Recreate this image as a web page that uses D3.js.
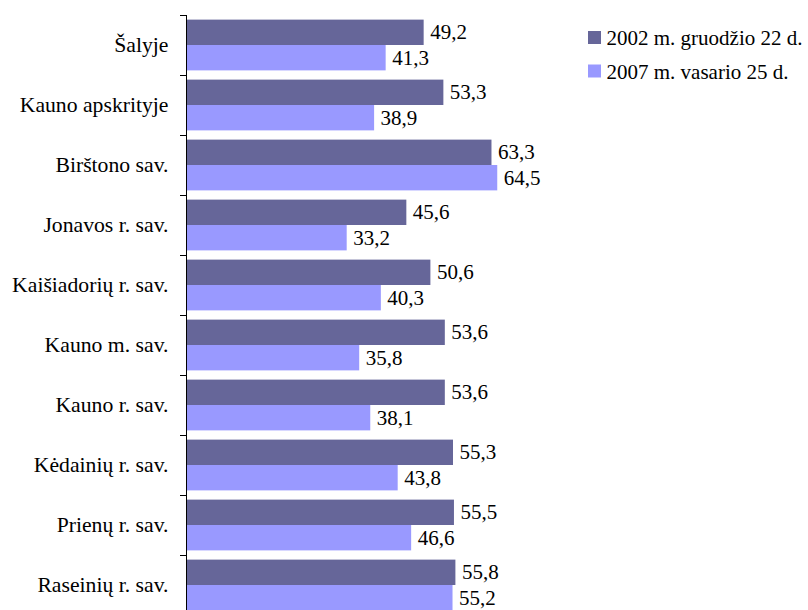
<!DOCTYPE html>
<html><head><meta charset="utf-8">
<script src="https://cdn.jsdelivr.net/npm/d3@7"></script>
<style>body{margin:0;background:#fff}svg{display:block}</style>
</head><body>
<script>
const categories = ["Šalyje","Kauno apskrityje","Birštono sav.","Jonavos r. sav.","Kaišiadorių r. sav.","Kauno m. sav.","Kauno r. sav.","Kėdainių r. sav.","Prienų r. sav.","Raseinių r. sav."];
const series2002 = [49.2,53.3,63.3,45.6,50.6,53.6,53.6,55.3,55.5,55.8];
const series2007 = [41.3,38.9,64.5,33.2,40.3,35.8,38.1,43.8,46.6,55.2];
const seriesNames = ["2002 m. gruodžio 22 d.","2007 m. vasario 25 d."];
const colors = ["#666699","#9999ff"];

const W=808,H=610;
const FF = '"Liberation Serif"';
const fsAxis = 21.7, fsVal = 21, fsLeg = 21;
const svg = d3.select("body").append("svg").attr("width",W).attr("height",H);

const y = d3.scaleBand().domain(categories).range([15,615]).paddingInner(0).paddingOuter(0);
const x = d3.scaleLinear().domain([0,70]).range([187,187+70*4.81]);
const inner = d3.scaleBand().domain([0,1]).range([0,y.bandwidth()]).paddingInner(0).paddingOuter(8/44);

const data = [series2002, series2007];
const g = svg.append("g");
categories.forEach((c,i)=>{
  data.forEach((s,k)=>{
    const y0 = y(c)+inner(k);
    g.append("rect").attr("x",x(0)).attr("y",y0).attr("width",x(s[i])-x(0)).attr("height",inner.bandwidth()).attr("fill",colors[k]);
    g.append("text").attr("x",x(s[i])+6.5).attr("y",y0+inner.bandwidth()/2+7)
      .style("font-family",FF).style("font-size",fsVal+"px").attr("fill","#000")
      .text(d3.format(".1f")(s[i]).replace(".",","));
  });
});

const axis = d3.axisLeft(y).tickSize(0).tickPadding(17.5);
const ag = svg.append("g").attr("transform","translate(186,0)").call(axis);
ag.select(".domain").attr("stroke","#000").attr("d","M0.5,15V615");
ag.selectAll("text").style("font-family",FF).style("font-size",fsAxis+"px").attr("fill","#000").attr("dy","0.31em");
const bounds = categories.map(c=>y(c)).concat([y.range()[1]]);
svg.append("g").selectAll("line").data(bounds).join("line")
  .attr("x1",180).attr("x2",186.5).attr("y1",d=>d+0.5).attr("y2",d=>d+0.5).attr("stroke","#000");

const lg = svg.append("g");
seriesNames.forEach((n,k)=>{
  lg.append("rect").attr("x",588).attr("y",31+k*33.5).attr("width",13).attr("height",13).attr("fill",colors[k]);
  lg.append("text").attr("x",606.5).attr("y",45+k*33.5).style("font-family",FF).style("font-size",fsLeg+"px").attr("fill","#000").text(n);
});
</script>
</body></html>
